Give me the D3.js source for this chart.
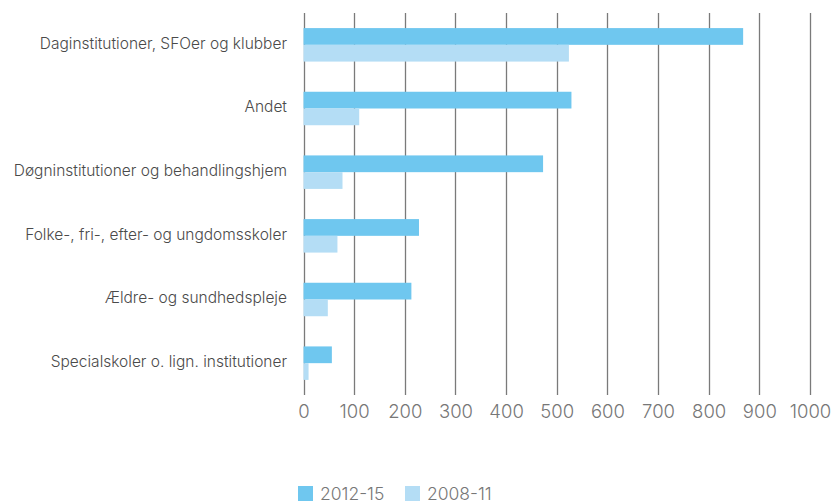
<!DOCTYPE html>
<html><head><meta charset="utf-8">
<script src="https://cdn.jsdelivr.net/npm/d3@7"></script>
<style>body{margin:0;background:#fff}svg{display:block}</style>
</head><body><svg id="c" width="832" height="504"></svg>
<script>
const categories = ["Daginstitutioner, SFOer og klubber","Andet","Døgninstitutioner og behandlingshjem","Folke-, fri-, efter- og ungdomsskoler","Ældre- og sundhedspleje","Specialskoler o. lign. institutioner"];
const series = ["2012-15","2008-11"];
const values2012 = [868, 529, 473, 228, 213, 56];
const values2008 = [524, 110, 77, 67, 48, 10];
const ticks = [0,100,200,300,400,500,600,700,800,900,1000];
const colors = ["#6fc7ef","#b4ddf5"];

const svg = d3.select("#c");
const x = d3.scaleLinear().domain([0,1000]).range([303.5,810]);
const y = d3.scaleBand().domain(categories).range([13,395]);
const ys = d3.scaleBand().domain(series).range([y.bandwidth()*0.237, y.bandwidth()*0.763]);

svg.append("g").selectAll("line").data(ticks).join("line")
  .attr("x1",d=>Math.round(x(d))+0.5).attr("x2",d=>Math.round(x(d))+0.5)
  .attr("y1",13).attr("y2",395)
  .attr("stroke","#7a7a7a").attr("stroke-width",1.3);

const data = [values2012, values2008];
series.forEach((s,si)=>{
  svg.append("g").selectAll("rect").data(categories).join("rect")
    .attr("x",x(0)).attr("y",d=>y(d)+ys(s))
    .attr("width",(d,i)=>x(data[si][i])-x(0))
    .attr("height",ys.bandwidth())
    .attr("fill",colors[si]);
});

svg.append("g").selectAll("text").data(categories).join("text")
  .attr("x",287).attr("y",d=>y(d)+y.bandwidth()/2 - 1.5)
  .attr("dy","0.35em").attr("text-anchor","end")
  .attr("font-family","Inter, sans-serif").attr("font-weight",300).attr("font-size",15.5)
  .attr("fill","#4a4a4a").text(d=>d);

const ax = svg.append("g").attr("transform","translate(0,395)")
  .call(d3.axisBottom(x).tickValues(ticks).tickFormat(d3.format("d")).tickSize(0).tickPadding(10));
ax.select(".domain").remove();
ax.selectAll("text").attr("font-family","Inter, sans-serif").attr("font-weight",300)
  .attr("font-size",18.5).attr("fill","#777");

const lg = svg.append("g");
const lx = [298, 405];
series.forEach((s,i)=>{
  lg.append("rect").attr("x",lx[i]).attr("y",486).attr("width",15).attr("height",15).attr("fill",colors[i]);
  lg.append("text").attr("x",lx[i]+22).attr("y",494).attr("dy","0.35em")
    .attr("font-family","Inter, sans-serif").attr("font-weight",300)
    .attr("font-size",17.5).attr("fill","#777").text(s);
});
</script></body></html>
